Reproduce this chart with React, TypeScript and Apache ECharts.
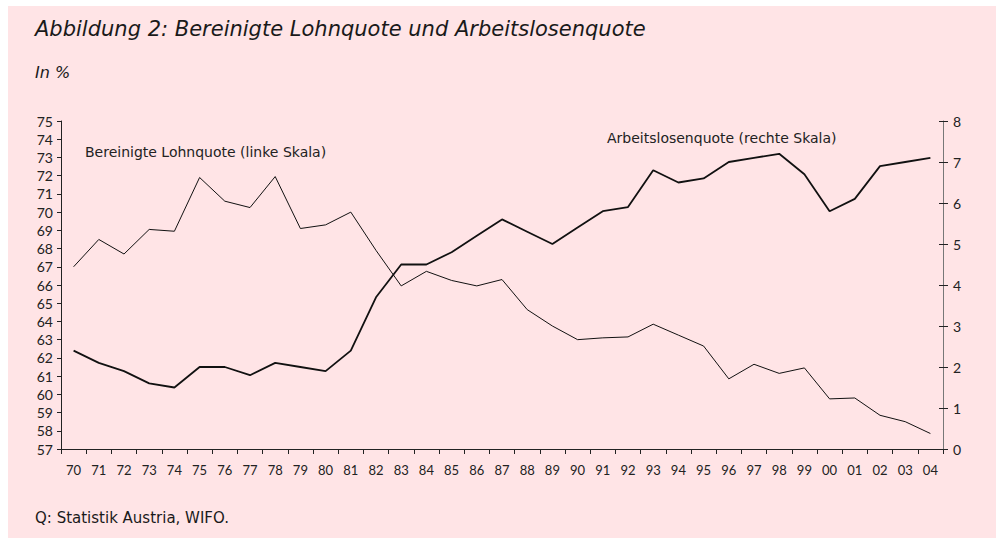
import React, { useEffect, useRef } from "react";
import * as echarts from "echarts";

const years = ["70","71","72","73","74","75","76","77","78","79","80","81","82","83","84","85","86","87","88","89","90","91","92","93","94","95","96","97","98","99","00","01","02","03","04"];
const lohnquote = [67.0,68.5,67.7,69.05,68.95,71.9,70.6,70.25,71.95,69.1,69.3,70.0,67.9,65.95,66.75,66.25,65.95,66.3,64.65,63.75,63.0,63.1,63.15,63.85,63.25,62.65,60.85,61.65,61.15,61.45,59.75,59.8,58.85,58.5,57.85];
const arbeitslosenquote = [2.4,2.1,1.9,1.6,1.5,2.0,2.0,1.8,2.1,2.0,1.9,2.4,3.7,4.5,4.5,4.8,5.2,5.6,5.3,5.0,5.4,5.8,5.9,6.8,6.5,6.6,7.0,7.1,7.2,6.7,5.8,6.1,6.9,7.0,7.1];

const FONT = "Lato, 'Noto Sans', sans-serif";
const WIDE = "'DejaVu Sans', sans-serif";

export default function App() {
  const ref = useRef<HTMLDivElement>(null);
  useEffect(() => {
    if (!ref.current) return;
    const chart = echarts.init(ref.current, null, { renderer: "svg" });
    chart.setOption({
      animation: false,
      backgroundColor: "#ffffff",
      textStyle: { fontFamily: FONT },
      grid: { left: 61, right: 53, top: 121, bottom: 89, containLabel: false },
      graphic: [
        { type: "rect", z: -10, shape: { x: 8, y: 6, width: 988, height: 532 }, style: { fill: "#ffe4e6" } },
        { type: "text", left: 35, top: 18, style: { text: "Abbildung 2: Bereinigte Lohnquote und Arbeitslosenquote", font: "oblique 21px " + WIDE, fill: "#1a1a1a" } },
        { type: "text", left: 35, top: 64, style: { text: "In %", font: "oblique 16px " + WIDE, fill: "#1a1a1a" } },
        { type: "text", left: 85, top: 145, style: { text: "Bereinigte Lohnquote (linke Skala)", font: "14px " + WIDE, fill: "#222" } },
        { type: "text", left: 607, top: 131, style: { text: "Arbeitslosenquote (rechte Skala)", font: "14px " + WIDE, fill: "#222" } },
        { type: "text", left: 35, top: 510, style: { text: "Q: Statistik Austria, WIFO.", font: "15px " + WIDE, fill: "#1a1a1a" } },
      ],
      xAxis: {
        type: "category",
        data: years,
        boundaryGap: true,
        axisLine: { lineStyle: { color: "#222", width: 1 } },
        axisTick: { show: true, length: 5, interval: 0, lineStyle: { color: "#222" } },
        axisLabel: { interval: 0, margin: 14, fontSize: 13, color: "#222", fontFamily: FONT },
        splitLine: { show: false },
      },
      yAxis: [
        {
          type: "value",
          min: 57,
          max: 75,
          interval: 1,
          position: "left",
          axisLine: { show: true, lineStyle: { color: "#222" } },
          axisTick: { show: true, length: 4, lineStyle: { color: "#222" } },
          axisLabel: { fontSize: 14, color: "#222", margin: 8, fontFamily: FONT },
          splitLine: { show: false },
        },
        {
          type: "value",
          min: 0,
          max: 8,
          interval: 1,
          position: "right",
          axisLine: { show: true, lineStyle: { color: "#777" } },
          axisTick: { show: true, length: 5, inside: false, lineStyle: { color: "#222" } },
          axisLabel: { fontSize: 14, color: "#222", margin: 10, fontFamily: FONT },
          splitLine: { show: false },
        },
        {
          type: "value",
          min: 0,
          max: 8,
          interval: 1,
          position: "right",
          axisLine: { show: false },
          axisTick: { show: true, length: 4, inside: true, lineStyle: { color: "#222" } },
          axisLabel: { show: false },
          splitLine: { show: false },
        },
      ],
      series: [
        {
          name: "Bereinigte Lohnquote",
          type: "line",
          yAxisIndex: 0,
          data: lohnquote,
          showSymbol: false,
          lineStyle: { color: "#111", width: 1 },
        },
        {
          name: "Arbeitslosenquote",
          type: "line",
          yAxisIndex: 1,
          data: arbeitslosenquote,
          showSymbol: false,
          lineStyle: { color: "#111", width: 1.8 },
        },
      ],
    });
    return () => chart.dispose();
  }, []);
  return <div ref={ref} style={{ position: "absolute", left: 0, top: 0, width: 996, height: 538 }} />;
}
